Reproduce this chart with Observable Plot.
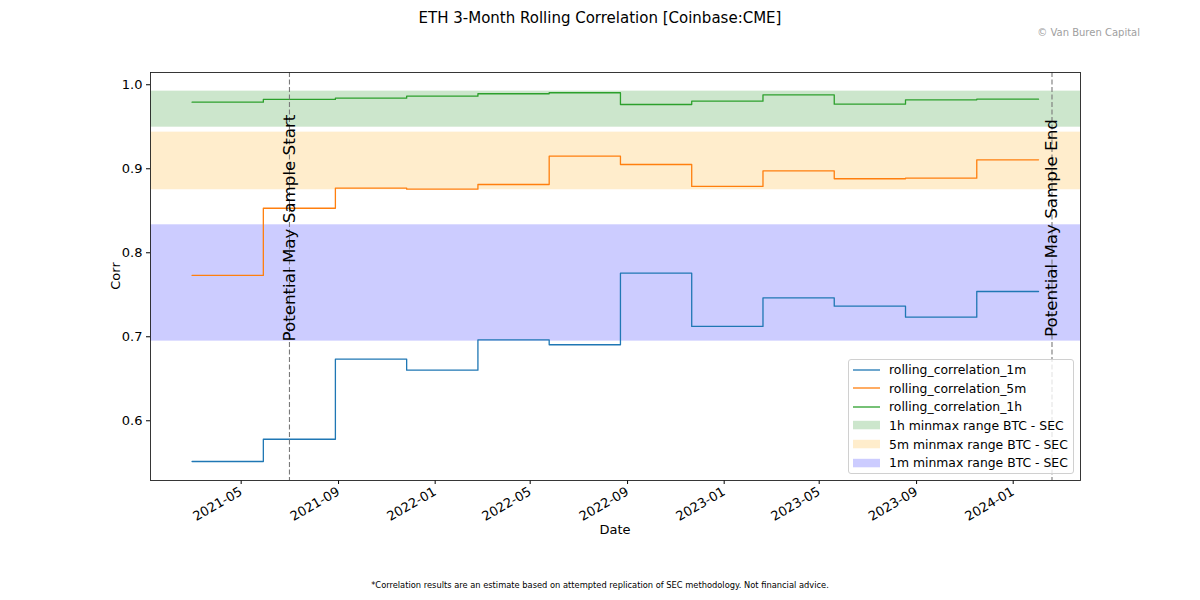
<!DOCTYPE html>
<html>
<head>
<meta charset="utf-8">
<script src="https://cdn.jsdelivr.net/npm/d3@7"></script>
<script src="https://cdn.jsdelivr.net/npm/@observablehq/plot@0.6"></script>
<style>
  html, body { margin: 0; padding: 0; background: white; }
  #wrap { position: relative; width: 1200px; height: 600px; font-family: "DejaVu Sans", sans-serif; color: black; overflow: hidden; }
  #wrap > svg { position: absolute; left: 0; top: 0; }
  .abs { position: absolute; white-space: nowrap; }
  #legend { position: absolute; left: 848px; top: 359px; width: 226px; height: 115px; box-sizing: border-box;
            border: 1px solid #d0d0d0; border-radius: 3px; background: rgba(255,255,255,0.8); }
  .row { position: absolute; left: 0; height: 18px; display: flex; align-items: center; font-size: 12.4px; }
  .row svg { display: block; flex: none; }
</style>
</head>
<body>
<div id="wrap"></div>
<script>
// ---- data ----
const stepDates = ["2021-02-28","2021-05-29","2021-08-28","2021-11-26","2022-02-24","2022-05-25",
                   "2022-08-23","2022-11-21","2023-02-19","2023-05-20","2023-08-18","2023-11-16","2024-02-02"];
const corr1m = [0.5515,0.578,0.6735,0.6602,0.6964,0.6905,0.7757,0.7123,0.7464,0.7364,0.7233,0.7539];
const corr5m = [0.773,0.853,0.877,0.8757,0.8813,0.915,0.9051,0.879,0.8976,0.8881,0.8888,0.9107];
const corr1h = [0.9793,0.9825,0.984,0.9864,0.9893,0.9905,0.9765,0.9805,0.988,0.9769,0.9821,0.9829];
const seriesNames = ["rolling_correlation_1m","rolling_correlation_5m","rolling_correlation_1h"];
const seriesColors = ["#1f77b4","#ff7f0e","#2ca02c"];

const bandNames = ["1h minmax range BTC - SEC","5m minmax range BTC - SEC","1m minmax range BTC - SEC"];
const bandLo = [0.9495, 0.875, 0.6948];
const bandHi = [0.9924, 0.9436, 0.8333];
const bandColors = ["#008000","#ffa500","#0000ff"];

const markerDates = ["2021-07-01","2024-02-19"];
const markerLabels = ["Potential May Sample Start","Potential May Sample End"];

const xTicks = ["2021-05-01","2021-09-01","2022-01-01","2022-05-01","2022-09-01","2023-01-01","2023-05-01","2023-09-01","2024-01-01"];
const yTicks = [0.6,0.7,0.8,0.9,1.0];
const xDomain = ["2021-01-06T12:00:00Z","2024-03-26T00:00:00Z"];
const yDomain = [0.5289, 1.0146];

// ---- build tables ----
const allSeries = [corr1m, corr5m, corr1h];
const lineData = allSeries.map(vals => stepDates.map((d, i) => ({date: new Date(d), v: vals[Math.min(i, vals.length - 1)]})));
const bandData = bandLo.map((lo, i) => ({lo, hi: bandHi[i], x1: new Date(xDomain[0]), x2: new Date(xDomain[1])}));
const markers = markerDates.map((d, i) => ({date: new Date(d), label: markerLabels[i]}));
const xTickDates = xTicks.map(d => new Date(d));

const marks = [];
bandData.forEach((b, i) => marks.push(Plot.rect([b], {x1: "x1", x2: "x2", y1: "lo", y2: "hi", fill: bandColors[i], fillOpacity: 0.2})));
lineData.forEach((ld, i) => marks.push(Plot.line(ld, {x: "date", y: "v", curve: "step-after", stroke: seriesColors[i], strokeWidth: 1.3})));
marks.push(Plot.ruleX(markers, {x: "date", stroke: "#7a7a7a", strokeWidth: 1.1, strokeDasharray: "5,2.5"}));
marks.push(Plot.text(markers, {x: "date", y: () => 0.8294, text: "label", rotate: -90, fontSize: 16.7,
  textAnchor: "middle", lineAnchor: "middle", fill: "black"}));
// x tick marks
marks.push(Plot.axisX({ticks: xTickDates, tickFormat: () => "", tickSize: 4, label: null}));
// x tick labels (rotated)
marks.push(Plot.axisX({ticks: xTickDates, tickFormat: d3.utcFormat("%Y-%m"), tickRotate: -30,
  tickSize: 0, tickPadding: 10, label: null, fontSize: 13}));
marks.push(Plot.axisY({ticks: yTicks, tickFormat: d3.format(".1f"), tickSize: 4, tickPadding: 4, label: null, fontSize: 13}));
marks.push(Plot.frame({stroke: "#222", strokeWidth: 0.9}));

const chart = Plot.plot({
  width: 1200, height: 600,
  marginTop: 72, marginRight: 120, marginBottom: 120, marginLeft: 150,
  style: {fontFamily: "DejaVu Sans", fontSize: "13px", background: "transparent", overflow: "visible", color: "black"},
  x: {type: "utc", domain: xDomain.map(d => new Date(d))},
  y: {domain: yDomain},
  marks
});

const wrap = document.getElementById("wrap");
wrap.appendChild(chart);

function addText(txt, css) {
  const d = document.createElement("div");
  d.className = "abs";
  d.textContent = txt;
  Object.assign(d.style, css);
  wrap.appendChild(d);
  return d;
}
addText("ETH 3-Month Rolling Correlation [Coinbase:CME]", {left: "0px", width: "1200px", textAlign: "center", top: "9px", fontSize: "15px"});
addText("© Van Buren Capital", {right: "60px", top: "27px", fontSize: "10px", color: "#a0a0a0"});
addText("*Correlation results are an estimate based on attempted replication of SEC methodology. Not financial advice.",
  {left: "0px", width: "1200px", textAlign: "center", top: "580px", fontSize: "8.3px"});
addText("Date", {left: "565px", width: "100px", textAlign: "center", top: "522px", fontSize: "13px"});
addText("Corr", {left: "115px", top: "276px", fontSize: "13px", transform: "translate(-50%,-50%) rotate(-90deg)"});

// legend
const legend = document.createElement("div");
legend.id = "legend";
wrap.appendChild(legend);
const legendItems = [
  ...seriesNames.map((n, i) => ({name: n, type: "line", color: seriesColors[i]})),
  ...bandNames.map((n, i) => ({name: n, type: "patch", color: bandColors[i]}))
];
legendItems.forEach((it, i) => {
  const r = document.createElement("div");
  r.className = "row";
  r.style.top = (i * 18.65 + 0.5) + "px";
  const sw = it.type === "line"
    ? `<svg width="27" height="18" style="margin-left:4px;margin-right:9px"><line x1="0" x2="27" y1="9" y2="9" stroke="${it.color}" stroke-width="1.3"/></svg>`
    : `<svg width="27" height="18" style="margin-left:4px;margin-right:9px"><rect x="0" y="4.8" width="27" height="8.5" fill="${it.color}" fill-opacity="0.2"/></svg>`;
  r.innerHTML = sw + `<span>${it.name}</span>`;
  legend.appendChild(r);
});
</script>
</body>
</html>
